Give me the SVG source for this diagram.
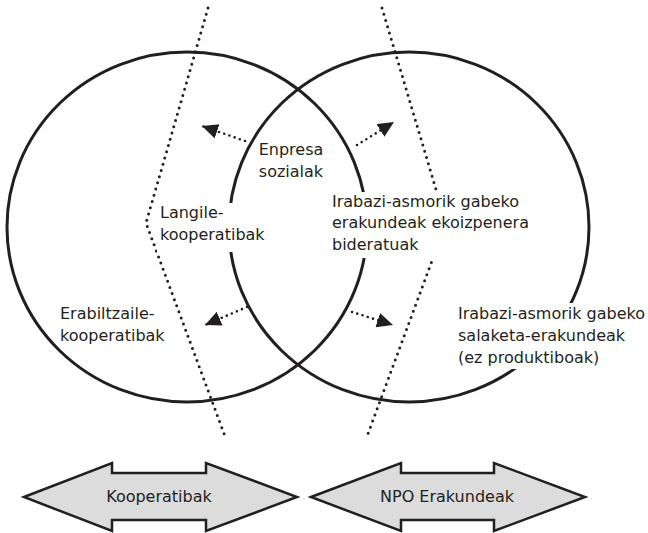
<svg xmlns="http://www.w3.org/2000/svg" width="648" height="533" viewBox="0 0 648 533">
<style>
.ring{fill:none;stroke:#231f20;stroke-width:3}
.bound{fill:none;stroke:#231f20;stroke-width:3;stroke-linecap:round;stroke-dasharray:0 6.5}
.flow{fill:none;stroke:#231f20;stroke-width:2.6;stroke-linecap:round;stroke-dasharray:0 5.5}
.lbl{font-family:"DejaVu Sans","Liberation Sans",sans-serif;font-size:16px;fill:#231f20}
.ko{fill:#fff;stroke:none}
.block{fill:#dcdcdc;stroke:#231f20;stroke-width:2.5;stroke-linejoin:miter}
</style>
<defs>
<marker id="head" markerUnits="userSpaceOnUse" markerWidth="18" markerHeight="16" refX="16" refY="7.5" orient="auto">
<path d="M0,0 L16,7.5 L0,15 z" fill="#231f20"/>
</marker>
</defs>
<rect width="648" height="533" fill="#fff"/>
<g id="circle-kooperatibak"><ellipse class="ring" cx="187" cy="227" rx="180" ry="175"/></g>
<g id="circle-npo"><ellipse class="ring" cx="409" cy="227" rx="180" ry="175"/></g>
<g id="connectors">
<polyline class="bound" points="208,8 146,223 226,439"/>
<polyline class="bound" points="382,8 446,223 366,439"/>
<line class="flow" x1="245" y1="141" x2="202" y2="126" marker-end="url(#head)"/>
<line class="flow" x1="357" y1="145" x2="394" y2="122" marker-end="url(#head)"/>
<line class="flow" x1="247" y1="307" x2="205" y2="325" marker-end="url(#head)"/>
<line class="flow" x1="352" y1="312" x2="393" y2="325" marker-end="url(#head)"/>
</g>
<g id="enpresa-sozialak">
<text class="lbl" x="291" y="155" text-anchor="middle">Enpresa</text>
<text class="lbl" x="291" y="177" text-anchor="middle">sozialak</text>
</g>
<g id="langile-kooperatibak">
<rect class="ko" x="157" y="203" width="112" height="49"/>
<text class="lbl" x="160" y="218">Langile-</text>
<text class="lbl" x="160" y="240">kooperatibak</text>
</g>
<g id="npo-ekoizpen">
<rect class="ko" x="328" y="192" width="206" height="66"/>
<text class="lbl" x="332" y="207">Irabazi-asmorik gabeko</text>
<text class="lbl" x="332" y="228">erakundeak ekoizpenera</text>
<text class="lbl" x="332" y="250">bideratuak</text>
</g>
<g id="erabiltzaile-kooperatibak">
<text class="lbl" x="60" y="319">Erabiltzaile-</text>
<text class="lbl" x="60" y="341">kooperatibak</text>
</g>
<g id="npo-salaketa">
<rect class="ko" x="454" y="303" width="194" height="66"/>
<text class="lbl" x="458" y="319">Irabazi-asmorik gabeko</text>
<text class="lbl" x="458" y="341">salaketa-erakundeak</text>
<text class="lbl" x="458" y="363">(ez produktiboak)</text>
</g>
<g id="arrow-kooperatibak">
<polygon class="block" points="24,497 112,463 112,473 206,473 206,463 297,497 206,531 206,520 112,520 112,531"/>
<text class="lbl" x="159" y="502" text-anchor="middle">Kooperatibak</text>
</g>
<g id="arrow-npo">
<polygon class="block" points="311,497 401,463 401,473 494,473 494,463 585,497 494,531 494,520 401,520 401,531"/>
<text class="lbl" x="447" y="502" text-anchor="middle">NPO Erakundeak</text>
</g>
</svg>
